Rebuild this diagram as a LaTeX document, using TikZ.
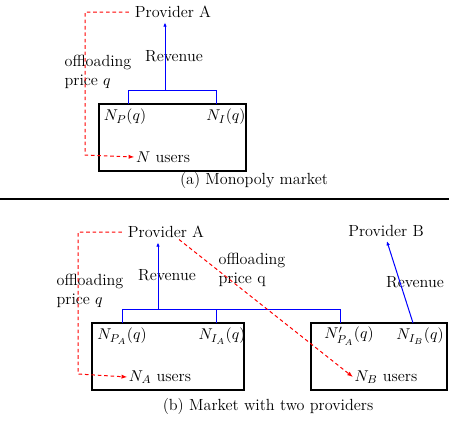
\documentclass[tikz,border=0pt]{standalone}
\usepackage{tikz}
\usetikzlibrary{arrows.meta,positioning,calc}

\begin{document}
\begin{tikzpicture}[
  x=0.7pt, y=-0.7pt,
  txt/.style={font=\fontsize{11.3}{13}\selectfont, inner sep=1pt},
  mkt/.style={draw, line width=1.1pt},
  rev/.style={blue, line width=0.7pt},
  revarr/.style={rev, shorten >=2pt, -{Latex[length=3pt,width=2.5pt]}},
  off/.style={red, line width=0.7pt, dash pattern=on 2.5pt off 2pt, -{Latex[length=4pt,width=3pt]}}
]
  \useasboundingbox (0,0) rectangle (449,420);

  % (a) monopoly
  \node[txt] (provA1) at (173,12) {Provider A};
  \node[mkt, minimum width=102.9pt, minimum height=46.9pt] (boxM) at (172.5,137.5) {};
  \node[txt] (npM) at (125,117) {$N_P(q)$};
  \node[txt] (niM) at (226,117) {$N_I(q)$};
  \node[txt] (usersM) at (163,157) {$N$ users};
  \node[txt] (revM) at (174,56) {Revenue};
  \node[txt, align=left] (offM) at (98,72) {offloading\\price $q$};
  \node[txt] (capA) at (254,180) {(a) Monopoly market};

  \coordinate (jM) at (165,90);
  \coordinate (cM) at (85,155);
  \draw[rev] (128,104) |- (216,90) -- (216,104);
  \draw[revarr] (jM) -- (jM |- provA1.south);
  \draw[off, shorten <=3pt] (provA1.west) -| (cM) -- (usersM.west);

  \coordinate (sepL) at (0,199);
  \coordinate (sepR) at (449,199);
  \draw[line width=1.1pt] (sepL) -- (sepR);

  % (b) two providers
  \node[txt] (provA2) at (166,232) {Provider A};
  \node[txt] (provB) at (386,231) {Provider B};
  \node[mkt, minimum width=106.4pt, minimum height=46.9pt] (boxA) at (168,356.5) {};
  \node[mkt, minimum width=95.2pt, minimum height=46.9pt] (boxB) at (379,356.5) {};
  \node[txt] (npA) at (122,336) {$N_{P_A}(q)$};
  \node[txt] (niA) at (222,336) {$N_{I_A}(q)$};
  \node[txt] (npB) at (349,336) {$N'_{P_A}(q)$};
  \node[txt] (niB) at (420,336) {$N_{I_B}(q)$};
  \node[txt] (usersA) at (160,377) {$N_A$ users};
  \node[txt] (usersB) at (386,377) {$N_B$ users};
  \node[txt] (revA) at (167,275) {Revenue};
  \node[txt] (revB) at (415,282) {Revenue};
  \node[txt, align=left] (offA) at (90,291) {offloading\\price $q$};
  \node[txt, align=left] (offB) at (252,270) {offloading\\price q};
  \node[txt] (capB) at (268,406) {(b) Market with two providers};

  \coordinate (jA) at (158,309);
  \coordinate (cA) at (78,374);
  \coordinate (tB) at (413,323);
  \draw[rev] (122,323) |- (340,309) -- (340,323);
  \draw[rev] (216,309) -- (216,323);
  \draw[revarr] (jA) -- (jA |- provA2.south);
  \draw[revarr] (tB) -- (provB.south);
  \draw[off, shorten <=3pt] (provA2.west) -| (cA) -- (usersA.west);
  \draw[off] (provA2.-30) -- (usersB.west);
\end{tikzpicture}
\end{document}
